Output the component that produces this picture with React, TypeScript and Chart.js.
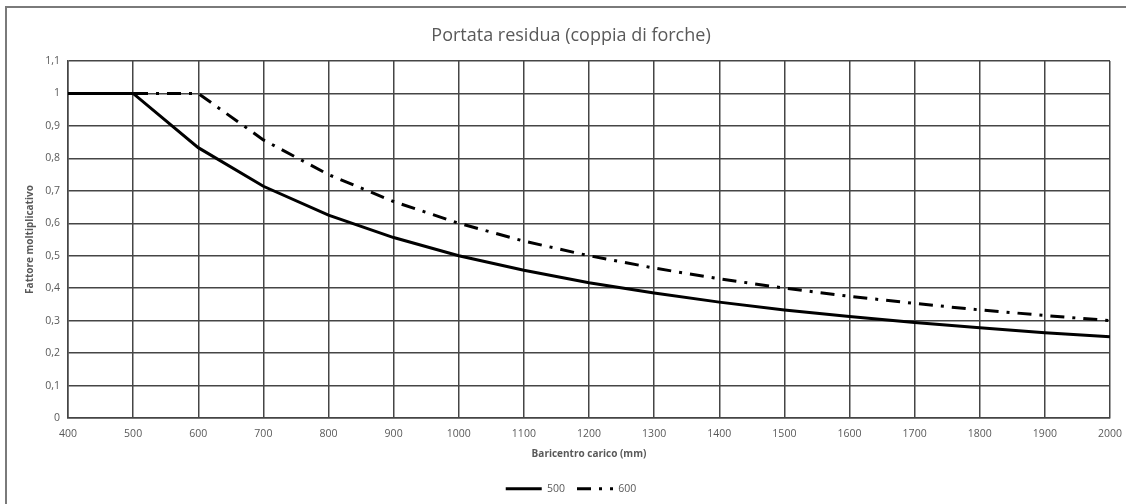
import React, { useEffect, useRef } from "react";
import { Chart, registerables } from "chart.js";

Chart.register(...registerables);

const xValues = [400, 500, 600, 700, 800, 900, 1000, 1100, 1200, 1300, 1400, 1500, 1600, 1700, 1800, 1900, 2000];
const series500 = [1, 1, 0.833, 0.714, 0.625, 0.556, 0.5, 0.455, 0.417, 0.385, 0.357, 0.333, 0.313, 0.294, 0.278, 0.263, 0.25];
const series600 = [1, 1, 1, 0.857, 0.75, 0.667, 0.6, 0.545, 0.5, 0.462, 0.429, 0.4, 0.375, 0.353, 0.333, 0.316, 0.3];
const seriesNames = ["500", "600"];
const seriesDash = [[], [14, 8, 3, 8]];
const chartTitle = "Portata residua (coppia di forche)";
const xTitle = "Baricentro carico (mm)";
const yTitle = "Fattore moltiplicativo";

const FONT = "'Open Sans', 'Liberation Sans', sans-serif";
const TEXT = "#595959";
const GRID = "#454545";

export default function App() {
  const ref = useRef<HTMLCanvasElement | null>(null);

  useEffect(() => {
    if (!ref.current) return;
    const mk = (i: number, vals: number[]) => ({
      label: seriesNames[i],
      data: xValues.map((x, k) => ({ x, y: vals[k] })),
      borderColor: "#000",
      backgroundColor: "#000",
      borderWidth: 3,
      borderDash: seriesDash[i],
      pointRadius: 0,
      tension: 0,
    });
    const chart = new Chart(ref.current, {
      type: "line",
      data: { datasets: [mk(0, series500), mk(1, series600)] },
      options: {
        animation: false,
        responsive: false,
        maintainAspectRatio: false,
        layout: { padding: { left: 16, right: 0, top: 0, bottom: 0 } },
        plugins: {
          tooltip: { enabled: false },
          title: {
            display: true,
            text: chartTitle,
            color: TEXT,
            font: { family: FONT, size: 18, weight: "normal", lineHeight: 1.2 },
            padding: { top: 25, bottom: 14.4 },
          },
          legend: {
            display: true,
            position: "bottom",
            labels: {
              usePointStyle: true,
              pointStyle: "line",
              pointStyleWidth: 36,
              boxHeight: 10,
              padding: 12,
              color: TEXT,
              font: { family: FONT, size: 10.5 },
              generateLabels: (c: any) => {
                const items = Chart.defaults.plugins.legend.labels.generateLabels(c);
                return items.map((it: any, i: number) => ({
                  ...it,
                  lineDash: seriesDash[i],
                  lineWidth: 3,
                  strokeStyle: "#000",
                  pointStyle: "line",
                }));
              },
            },
          },
        },
        scales: {
          x: {
            type: "linear",
            min: 400,
            max: 2000,
            ticks: {
              stepSize: 100,
              color: TEXT,
              padding: 10,
              maxRotation: 0,
              autoSkip: false,
              font: { family: FONT, size: 10.5 },
              callback: (v: any) => String(v),
            },
            grid: { color: GRID, lineWidth: 1.5, drawTicks: false },
            border: { color: GRID, width: 1.5 },
            title: {
              display: true,
              text: xTitle,
              color: TEXT,
              font: { family: FONT, size: 10, weight: "bold", lineHeight: 1.2 },
              padding: { top: 0, bottom: 11 },
            },
            afterFit: (scale: any) => {
              const lh = scale.chart.legend ? scale.chart.legend.height : 34;
              scale.height = 504 - 418 - lh;
              scale.paddingRight = 16;
            },
          },
          y: {
            min: 0,
            max: 1.1,
            ticks: {
              stepSize: 0.1,
              color: TEXT,
              padding: 8,
              font: { family: FONT, size: 10.5 },
              callback: (v: any) => String(Number(Number(v).toFixed(1))).replace(".", ","),
            },
            grid: { color: GRID, lineWidth: 1.5, drawTicks: false },
            border: { color: GRID, width: 1.5 },
            title: {
              display: true,
              text: yTitle,
              color: TEXT,
              font: { family: FONT, size: 10, weight: "bold", lineHeight: 1.2 },
              padding: { top: 8, bottom: 0 },
            },
            afterFit: (scale: any) => {
              scale.width = 52;
            },
          },
        },
      },
    });
    return () => chart.destroy();
  }, []);

  return (
    <div style={{ position: "absolute", left: 0, top: 0, width: 1126, height: 504, background: "#fff", overflow: "hidden" }}>
      <div
        style={{
          position: "absolute",
          left: 5,
          top: 6,
          width: 1130,
          height: 510,
          borderLeft: "2px solid #7a7a7a",
          borderTop: "2px solid #7a7a7a",
        }}
      />
      <canvas ref={ref} width={1126} height={504} style={{ position: "absolute", left: 0, top: 0 }} />
    </div>
  );
}
